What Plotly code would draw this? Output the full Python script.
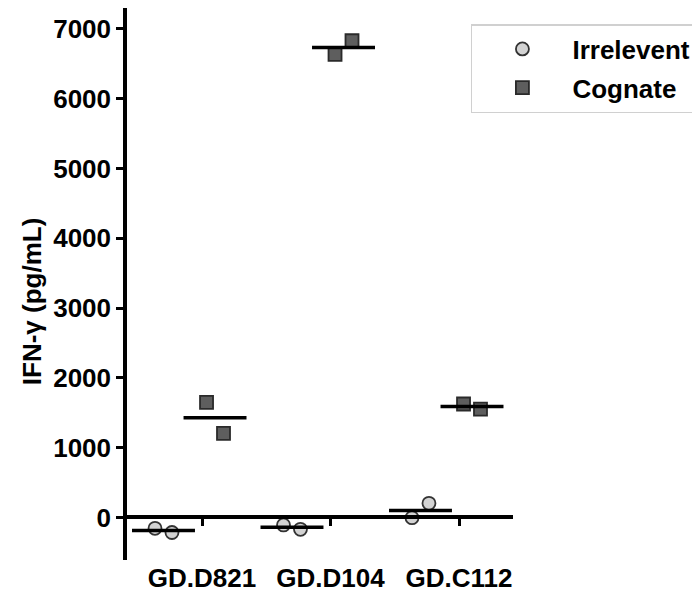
import numpy as np
import plotly.graph_objects as go

# ---- data ----
groups = ["GD.D821", "GD.D104", "GD.C112"]
irrelevant = [[-155, -215], [-107, -169], [-3, 203]]
cognate = [[1650, 1206], [6636, 6831], [1626, 1554]]
y_ticks = [0, 1000, 2000, 3000, 4000, 5000, 6000, 7000]

# ---- layout helpers (positions / styles) ----
FONT = "Liberation Sans, Arial, sans-serif"
irr_off, cog_off = -0.300, 0.101      # sub-column offsets from the group tick
jit = 0.066                           # within-column spread of replicates
half = 0.245                          # half length of mean bars
x_range = [-0.584, 2.420]
y_range = [-609, 7300]

gx = np.arange(len(groups))

def column_points(vals, off):
    xs, ys = [], []
    for i, v in enumerate(vals):
        n = len(v)
        sp = np.linspace(-jit, jit, n) if n > 1 else [0]
        for s, val in zip(sp, v):
            xs.append(gx[i] + off + s)
            ys.append(val)
    return xs, ys

def mean_bars(vals, off):
    xs, ys = [], []
    for i, v in enumerate(vals):
        m = float(np.mean(v))
        c = gx[i] + off
        xs += [c - half, c + half, None]
        ys += [m, m, None]
    return xs, ys

fig = go.Figure()

mx, my = mean_bars(irrelevant, irr_off)
fig.add_trace(go.Scatter(x=mx, y=my, mode="lines", line=dict(color="black", width=3.5),
                         showlegend=False, hoverinfo="skip", xaxis="x2"))
mx, my = mean_bars(cognate, cog_off)
fig.add_trace(go.Scatter(x=mx, y=my, mode="lines", line=dict(color="black", width=3.5),
                         showlegend=False, hoverinfo="skip", xaxis="x2"))

px_, py_ = column_points(irrelevant, irr_off)
fig.add_trace(go.Scatter(x=px_, y=py_, mode="markers", name="Irrelevent",
                         legendgroup="a",
                         marker=dict(symbol="circle", size=13, color="#d3d3d3",
                                     line=dict(color="#333333", width=1.8))))
px_, py_ = column_points(cognate, cog_off)
fig.add_trace(go.Scatter(x=px_, y=py_, mode="markers", name="Cognate",
                         legendgroup="b",
                         marker=dict(symbol="square", size=13, color="#5e5e5e",
                                     line=dict(color="#2a2a2a", width=1.8))))

pos0 = (0 - y_range[0]) / (y_range[1] - y_range[0])

fig.update_layout(
    width=692, height=588,
    margin=dict(l=119, r=187, t=0, b=36, autoexpand=False),
    plot_bgcolor="white", paper_bgcolor="white",
    font=dict(family=FONT, size=26, color="black", weight="bold"),
    xaxis=dict(range=x_range, tickvals=list(gx), ticktext=groups, showline=False,
               showgrid=False, zeroline=False, ticks="", anchor="y", automargin=False,
               tickfont=dict(size=26, family=FONT, weight="bold")),
    xaxis2=dict(range=x_range, overlaying="x", anchor="free", position=pos0,
                tickvals=list(gx), showticklabels=False, showline=True,
                linecolor="black", linewidth=3.5, ticks="outside", ticklen=7,
                tickwidth=3, tickcolor="black", showgrid=False, zeroline=False,
                automargin=False),
    yaxis=dict(range=y_range, tickvals=y_ticks, showline=True, linecolor="black",
               linewidth=3.5, ticks="outside", ticklen=7, tickwidth=3,
               tickcolor="black", showgrid=False, zeroline=False, automargin=False,
               tickfont=dict(size=26, family=FONT, weight="bold")),
    legend=dict(x=0.891, y=0.971, xanchor="left", yanchor="top",
                bordercolor="#d0d0d0", borderwidth=1.5, bgcolor="white",
                itemwidth=90, traceorder="grouped", tracegroupgap=2,
                font=dict(size=26, family=FONT, weight="bold")),
    annotations=[dict(text="IFN-γ (pg/mL)", textangle=-90, xref="paper", yref="y",
                      x=-0.246, y=3100, xanchor="center", yanchor="middle",
                      showarrow=False,
                      font=dict(size=26, family=FONT, weight="bold"))],
)

fig.write_html("out.html")
